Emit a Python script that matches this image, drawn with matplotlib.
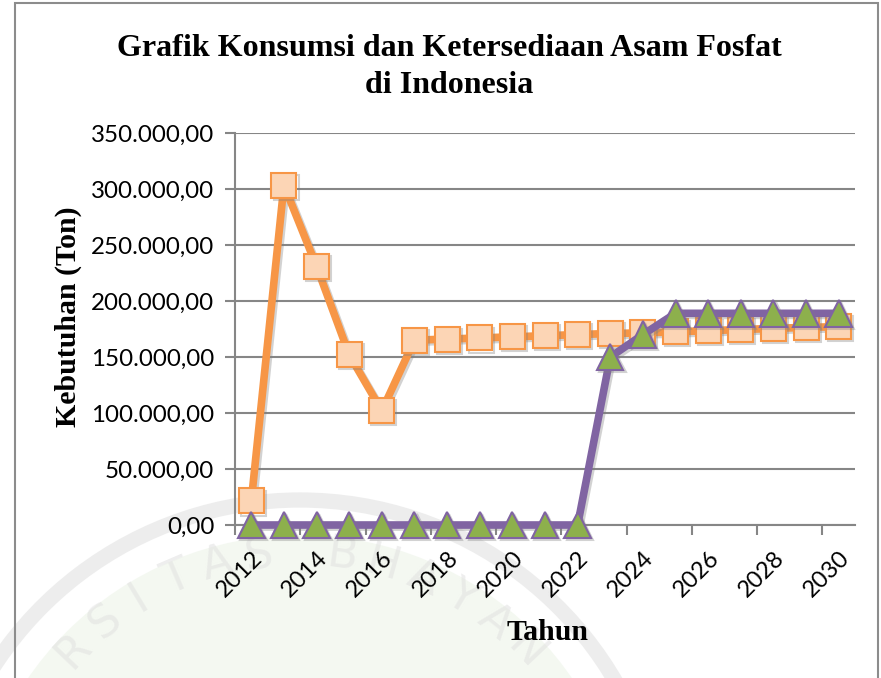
import math
import matplotlib
matplotlib.use("Agg")
import matplotlib.pyplot as plt
import matplotlib.patheffects as pe
from matplotlib.ticker import FuncFormatter, FixedLocator
from matplotlib.patches import Rectangle, Arc, Ellipse

years = list(range(2012, 2031))
konsumsi = [21500, 303500, 231000, 152000, 102000, 165000, 166000, 167000, 168000,
            169000, 170000, 171000, 171500, 172500, 173500, 174500, 175500, 176500, 177000]
ketersediaan = [0, 0, 0, 0, 0, 0, 0, 0, 0, 0, 0, 150000, 170000, 189000, 189000,
                189000, 189000, 189000, 189000]
tick_years = [str(y) for y in years[::2]]

title = "Grafik Konsumsi dan Ketersediaan Asam Fosfat\ndi Indonesia"
ylabel = "Kebutuhan (Ton)"
xlabel = "Tahun"
watermark = "UNIVERSITAS BHAYANGKARA"

W, H = 881, 678
fig = plt.figure(figsize=(W/100, H/100), dpi=100)

# faint watermark (background, only the part visible inside the picture)
cx, cy, R = 300, 865, 312
fig.patches.append(Ellipse((cx/W, 1-cy/H), 2*330/W, 2*330/H, transform=fig.transFigure,
                           fc="#f0f6ec", ec="none", alpha=0.7, zorder=0))
fig.patches.append(Arc((cx/W, 1-cy/H), 2*365/W, 2*365/H, theta1=20, theta2=160,
                       transform=fig.transFigure, color="#e2e2e2", lw=11, alpha=0.6, zorder=0))
step = 7.75
n = len(watermark)
for i, ch in enumerate(watermark):
    if i < 5 or i > 17 or ch == " ":
        continue
    th = (i - (n - 1) / 2) * step
    t = math.radians(th)
    px = cx + R * math.sin(t)
    py = cy - R * math.cos(t)
    fig.text(px/W, 1-py/H, ch, ha="center", va="center", rotation=-th,
             fontsize=32, family="DejaVu Sans", color="#dedede", alpha=0.5, zorder=0)

ax = fig.add_axes([235/W, 1-525/H, 620/W, 392/H])
ax.set_zorder(5)
ax.patch.set_visible(False)

x = list(range(len(years)))
shadow = [pe.SimpleLineShadow(offset=(1.5, -1.5), shadow_color="0.5", alpha=0.35), pe.Normal()]
ax.plot(x, konsumsi, color="#F79646", lw=5.5, marker="s", ms=18,
        mfc="#FCD5B5", mec="#F79646", mew=1.5, zorder=3, path_effects=shadow, clip_on=False)
ax.plot(x, ketersediaan, color="#8064A2", lw=5.5, marker="^", ms=19,
        mfc="#8DB04C", mec="#8064A2", mew=1.5, zorder=4, path_effects=shadow, clip_on=False)

ax.set_xlim(-0.5, len(years) - 0.5)
ax.set_ylim(0, 350000)
ax.set_yticks(range(0, 350001, 50000))
ax.yaxis.set_major_formatter(FuncFormatter(
    lambda v, p: f"{v:,.2f}".replace(",", "X").replace(".", ",").replace("X", ".")))
ax.grid(axis="y", color="#868686", lw=1.5)
ax.set_axisbelow(True)

ax.set_xticks(x[::2])
ax.set_xticklabels(tick_years, rotation=45, ha="right", rotation_mode="anchor",
                   fontsize=17, family="Lato")
ax.tick_params(axis="x", which="major", length=0, pad=16)
ax.xaxis.set_minor_locator(FixedLocator([i - 0.5 for i in range(0, len(years), 2)]))
ax.tick_params(axis="x", which="minor", length=7, width=1.5, color="#868686", direction="out")
ax.tick_params(axis="y", length=7, width=1.5, color="#868686", labelsize=17.4, pad=8,
               direction="out")
for lab in ax.get_yticklabels():
    lab.set_family("Lato")

for s in ["top", "right"]:
    ax.spines[s].set_visible(False)
for s in ["left", "bottom"]:
    ax.spines[s].set_color("#868686")
    ax.spines[s].set_linewidth(1.5)

fig.text(68/W, 1-317/H, ylabel, rotation=90, ha="center", va="center",
         family="Liberation Serif", fontweight="bold", fontsize=21.5, zorder=6)
fig.text(548/W, 1-632/H, xlabel, ha="center", va="center",
         family="Liberation Serif", fontweight="bold", fontsize=21.5, zorder=6)
fig.text(449/W, 1-67/H, title, ha="center", va="center",
         family="Liberation Serif", fontweight="bold", fontsize=23, linespacing=1.35, zorder=6)

fig.patches.append(Rectangle((15/W, -0.1), (878-15)/W, 1.1 - 3/H,
                             transform=fig.transFigure, fill=False, ec="#8c8c8c", lw=1.5,
                             zorder=6))

fig.savefig("out.png", dpi=100)
